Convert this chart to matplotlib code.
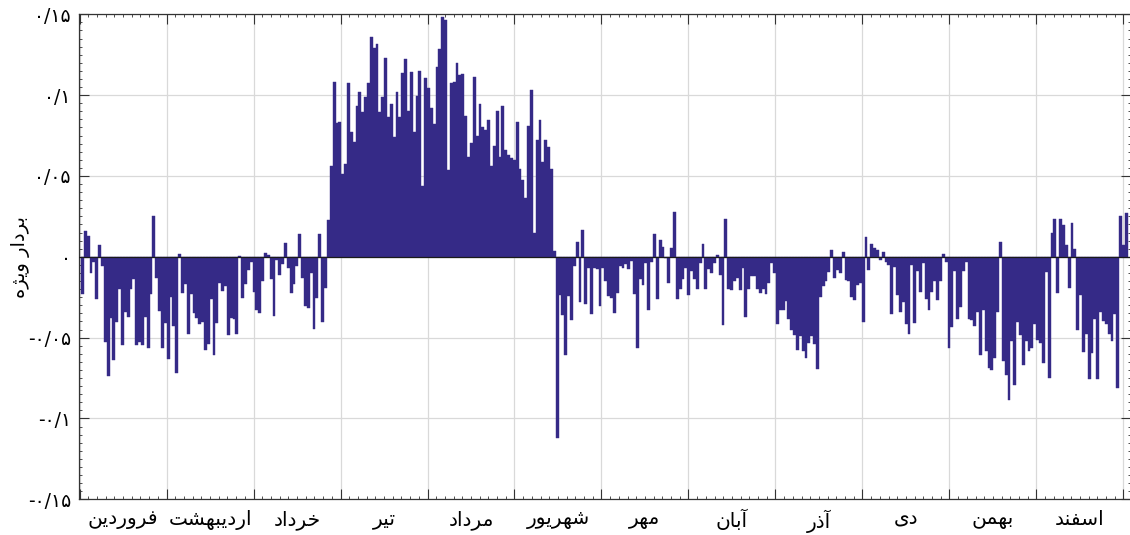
import matplotlib
matplotlib.use('Agg')
import matplotlib.pyplot as plt
import numpy as np

# ---------------- data ----------------
values = [
 -0.0229, 0.0157, 0.0128, -0.0103, -0.0033, -0.0258, 0.0072, -0.0054, -0.0525, -0.0738,
 -0.0381, -0.0641, -0.0402, -0.0198, -0.0544, -0.0340, -0.0371, -0.0202, -0.0136, -0.0548,
 -0.0529, -0.0548, -0.0375, -0.0564, -0.0229, 0.0251, -0.0130, -0.0336, -0.0562, -0.0412,
 -0.0634, -0.0247, -0.0429, -0.0717, 0.0015, -0.0222, -0.0171, -0.0476, -0.0233, -0.0346,
 -0.0379, -0.0418, -0.0404, -0.0579, -0.0542, -0.0260, -0.0610, -0.0412, -0.0161, -0.0212,
 -0.0181, -0.0486, -0.0377, -0.0387, -0.0480, 0.0006, -0.0253, -0.0171, -0.0082, -0.0033,
 -0.0220, -0.0326, -0.0346, -0.0150, 0.0025, 0.0014, -0.0140, -0.0367, -0.0020, -0.0110,
 -0.0045, 0.0087, -0.0068, -0.0222, -0.0171, -0.0058, 0.0138, -0.0130, -0.0303, -0.0317,
 -0.0099, -0.0445, -0.0253, 0.0138, -0.0404, -0.0192, 0.0227, 0.0562, 0.1080, 0.0826,
 0.0832, 0.0513, 0.0573, 0.1073, 0.0770, 0.0709, 0.0935, 0.1020, 0.0896, 0.0989,
 0.1073, 0.1360, 0.1290, 0.1316, 0.0894, 0.0990, 0.1232, 0.0863, 0.0948, 0.0738,
 0.1022, 0.0863, 0.1139, 0.1222, 0.0904, 0.1145, 0.0775, 0.0995, 0.1152, 0.0441,
 0.1108, 0.1047, 0.0919, 0.0820, 0.1172, 0.1283, 0.1485, 0.1465, 0.0538, 0.1073,
 0.1082, 0.1197, 0.1125, 0.1131, 0.0871, 0.0620, 0.0707, 0.1115, 0.0748, 0.0946,
 0.0801, 0.0785, 0.0847, 0.0562, 0.0688, 0.0902, 0.0620, 0.0935, 0.0663, 0.0628,
 0.0611, 0.0598, 0.0836, 0.0545, 0.0476, 0.0363, 0.0806, 0.1032, 0.0150, 0.0723,
 0.0847, 0.0589, 0.0723, 0.0682, 0.0542, 0.0033, -0.1121, -0.0235, -0.0358, -0.0605,
 -0.0241, -0.0393, -0.0056, 0.0089, -0.0282, 0.0163, -0.0290, -0.0070, -0.0352, -0.0070,
 -0.0076, -0.0307, -0.0070, -0.0148, -0.0245, -0.0253, -0.0350, -0.0222, -0.0058, -0.0068,
 -0.0047, -0.0074, -0.0027, -0.0233, -0.0562, -0.0140, -0.0177, -0.0037, -0.0332, -0.0033,
 0.0138, -0.0260, 0.0107, 0.0062, -0.0006, -0.0165, 0.0056, 0.0276, -0.0260, -0.0198,
 -0.0140, -0.0068, -0.0237, -0.0089, -0.0140, -0.0198, -0.0037, 0.0080, -0.0198, -0.0078,
 -0.0099, -0.0037, 0.0010, -0.0115, -0.0424, 0.0235, -0.0198, -0.0206, -0.0150, -0.0130,
 -0.0206, -0.0068, -0.0373, -0.0198, -0.0119, -0.0119, -0.0202, -0.0227, -0.0202, -0.0233,
 -0.0161, -0.0040, -0.0100, -0.0414, -0.0328, -0.0328, -0.0276, -0.0385, -0.0451, -0.0482,
 -0.0575, -0.0492, -0.0585, -0.0626, -0.0534, -0.0492, -0.0538, -0.0692, -0.0249, -0.0183,
 -0.0148, -0.0091, 0.0043, -0.0132, -0.0080, -0.0100, 0.0027, -0.0146, -0.0152, -0.0249,
 -0.0266, -0.0173, -0.0163, -0.0406, 0.0122, -0.0080, 0.0080, 0.0054, 0.0040, -0.0020,
 0.0030, -0.0035, -0.0050, -0.0352, -0.0060, -0.0235, -0.0344, -0.0282, -0.0414, -0.0476,
 -0.0050, -0.0410, -0.0090, -0.0220, -0.0040, -0.0260, -0.0328, -0.0220, -0.0152, -0.0266,
 -0.0152, 0.0020, -0.0030, -0.0564, -0.0435, -0.0090, -0.0385, -0.0311, -0.0090, -0.0035,
 -0.0383, -0.0393, -0.0426, -0.0344, -0.0606, -0.0328, -0.0585, -0.0688, -0.0698, -0.0626,
 -0.0344, 0.0089, -0.0647, -0.0730, -0.0884, -0.0523, -0.0791, -0.0406, -0.0482, -0.0667,
 -0.0523, -0.0585, -0.0564, -0.0414, -0.0517, -0.0532, -0.0655, -0.0095, -0.0748, 0.0148,
 0.0235, -0.0222, 0.0235, 0.0194, 0.0070, -0.0192, 0.0206, 0.0049, -0.0455, -0.0239,
 -0.0589, -0.0480, -0.0758, -0.0593, -0.0383, -0.0758, -0.0340, -0.0398, -0.0414, -0.0480,
 -0.0521, -0.0352, -0.0810, 0.0251, 0.0076, 0.0268,
]

months = ['فروردین', 'اردیبهشت', 'خرداد', 'تیر', 'مرداد', 'شهریور',
          'مهر', 'آبان', 'آذر', 'دی', 'بهمن', 'اسفند']
ytick_values = [-0.15, -0.1, -0.05, 0.0, 0.05, 0.1, 0.15]
ytick_labels = ['-۰/۱۵', '-۰/۱', '-۰/۰۵', '۰', '۰/۰۵', '۰/۱', '۰/۱۵']
ylabel_text = 'بردار ویژه'

# ---------------- Persian shaping (presentation forms, visual order) ----------------
FORMS = {
    'ا': ('\uFE8D', '\uFE8E', None, None),
    'آ': ('\uFE81', '\uFE82', None, None),
    'ب': ('\uFE8F', '\uFE90', '\uFE91', '\uFE92'),
    'ت': ('\uFE95', '\uFE96', '\uFE97', '\uFE98'),
    'خ': ('\uFEA5', '\uFEA6', '\uFEA7', '\uFEA8'),
    'د': ('\uFEA9', '\uFEAA', None, None),
    'ذ': ('\uFEAB', '\uFEAC', None, None),
    'ر': ('\uFEAD', '\uFEAE', None, None),
    'ژ': ('\uFB8A', '\uFB8B', None, None),
    'س': ('\uFEB1', '\uFEB2', '\uFEB3', '\uFEB4'),
    'ش': ('\uFEB5', '\uFEB6', '\uFEB7', '\uFEB8'),
    'ف': ('\uFED1', '\uFED2', '\uFED3', '\uFED4'),
    'م': ('\uFEE1', '\uFEE2', '\uFEE3', '\uFEE4'),
    'ن': ('\uFEE5', '\uFEE6', '\uFEE7', '\uFEE8'),
    'ه': ('\uFEE9', '\uFEEA', '\uFEEB', '\uFEEC'),
    'و': ('\uFEED', '\uFEEE', None, None),
    'ی': ('\uFBFC', '\uFBFD', '\uFBFE', '\uFBFF'),
}


def shape(text):
    out = []
    for j, c in enumerate(text):
        if c not in FORMS:
            out.append(c)
            continue
        prev = text[j - 1] if j > 0 else None
        nxt = text[j + 1] if j + 1 < len(text) else None
        jp = prev in FORMS and FORMS[prev][2] is not None
        jn = nxt in FORMS and FORMS[c][2] is not None
        iso, fin, ini, med = FORMS[c]
        if jp and jn:
            out.append(med)
        elif jp:
            out.append(fin)
        elif jn:
            out.append(ini)
        else:
            out.append(iso)
    return ''.join(out)[::-1]


# ---------------- figure ----------------
W, H = 1130, 535
plt.rcParams['font.family'] = ['DejaVu Sans']
fig = plt.figure(figsize=(W / 100, H / 100), dpi=100)
L, R, T, B = 79.3, 1131.0, 14.3, 499.3
ax = fig.add_axes([L / W, 1 - B / H, (R - L) / W, (B - T) / H])

n = len(values)
PX = 2.86          # pixels per bar
X0 = 79.54         # pixel of coordinate 0
ax.set_xlim((L - X0) / PX, (R - X0) / PX)
ax.set_ylim(-0.15, 0.15)

bar_color = '#352A87'
ax.bar(np.arange(1, n + 1), values, width=1.0, color=bar_color,
       edgecolor=bar_color, linewidth=0.3, zorder=2)

# grid
seg = 365 / 12
grid_x = [seg * k for k in range(13)]
for gx in grid_x:
    ax.axvline(gx, color='#d9d9d9', lw=0.9, zorder=1)
for gy in ytick_values:
    ax.axhline(gy, color='#d9d9d9', lw=0.9, zorder=1)
ax.axhline(0, color='#1a1a1a', lw=0.9, zorder=3)

# ticks
ax.set_yticks(ytick_values)
ax.set_yticklabels(ytick_labels, fontsize=13.5)
ax.set_yticks(np.arange(-0.15, 0.1501, 0.005), minor=True)
ax.set_xticks(grid_x)
ax.set_xticklabels([])
ax.set_xticks(np.arange(0, 366, seg / 10), minor=True)
ax.tick_params(which='both', direction='in', top=True, right=True, color='#333333')
ax.tick_params(which='major', length=7, width=0.8)
ax.tick_params(which='minor', length=2.5, width=0.6)
ax.tick_params(axis='y', which='major', pad=6)
for s in ax.spines.values():
    s.set_color('#333333')
    s.set_linewidth(0.9)

for k, m in enumerate(months):
    ax.text(seg * (k + 0.5), -0.1565, shape(m), ha='center', va='top',
            fontsize=14.5, transform=ax.transData)

fig.text(20 / W, 1 - 257 / H, shape(ylabel_text), rotation=90, ha='center',
         va='center', fontsize=14)

fig.savefig('out.png', dpi=100)
